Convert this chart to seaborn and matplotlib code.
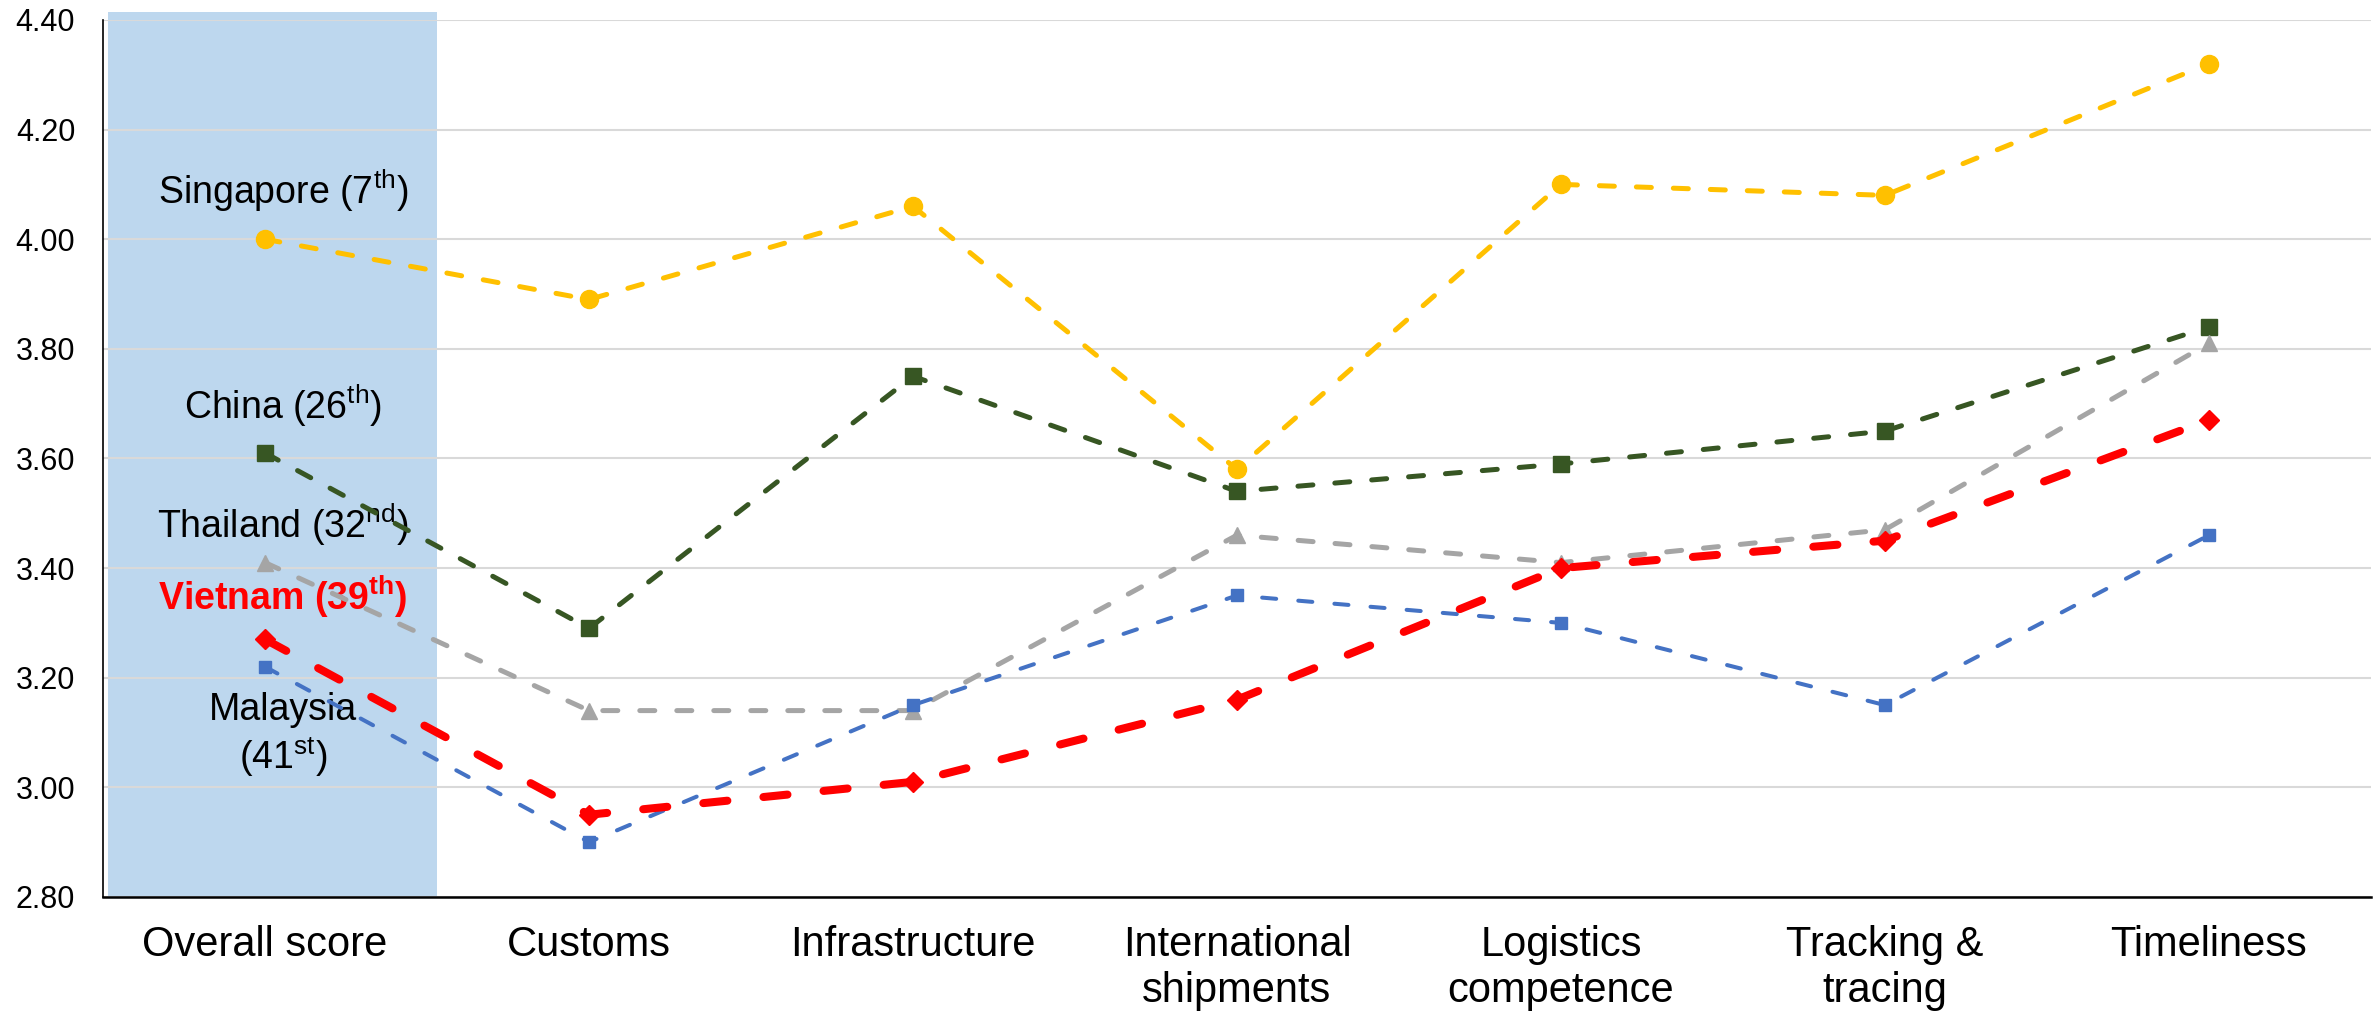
import numpy as np
import pandas as pd
import matplotlib
matplotlib.use("Agg")
import matplotlib.pyplot as plt
import matplotlib.transforms as mtransforms
from matplotlib.patches import Rectangle
import seaborn as sns

# Dati LPI per paese
categories = ["Overall score", "Customs", "Infrastructure", "International\nshipments",
              "Logistics\ncompetence", "Tracking &\ntracing", "Timeliness"]
singapore = [4.00, 3.89, 4.06, 3.58, 4.10, 4.08, 4.32]
china = [3.61, 3.29, 3.75, 3.54, 3.59, 3.65, 3.84]
thailand = [3.41, 3.14, 3.14, 3.46, 3.41, 3.47, 3.81]
vietnam = [3.27, 2.95, 3.01, 3.16, 3.40, 3.45, 3.67]
malaysia = [3.22, 2.90, 3.15, 3.35, 3.30, 3.15, 3.46]
y_ticks = [2.80, 3.00, 3.20, 3.40, 3.60, 3.80, 4.00, 4.20, 4.40]

sns.set_theme(style="white")
plt.rcParams["font.family"] = ["Liberation Sans", "DejaVu Sans"]
plt.rcParams["mathtext.fontset"] = "custom"
plt.rcParams["mathtext.rm"] = "Liberation Sans"
plt.rcParams["mathtext.bf"] = "Liberation Sans:bold"

fig = plt.figure(figsize=(23.79, 10.18), dpi=100, facecolor="white")
ax = fig.add_axes([0.0433, 0.1189, 0.9533, 0.8615])

x = np.arange(len(categories))

# stile delle serie: colore, marker, dimensione marker, spessore, tratteggio
series = [
    ("Singapore", singapore, "#FFC000", "o", 13, 3.6, (3.0, 4.4)),
    ("China", china, "#375623", "s", 12, 3.6, (3.0, 4.4)),
    ("Thailand", thailand, "#A5A5A5", "^", 12, 3.6, (3.0, 4.4)),
    ("Malaysia", malaysia, "#4472C4", "s", 8, 2.9, (3.5, 5.5)),
    ("Vietnam", vietnam, "#FF0000", "D", 10, 5.8, (3.0, 4.5)),
]

for name, vals, col, mk, ms, lw, dash in series:
    df = pd.DataFrame({"x": x, "y": vals})
    sns.lineplot(data=df, x="x", y="y", ax=ax, color=col, marker=mk, markersize=ms,
                 markeredgecolor=col, markeredgewidth=1, linewidth=lw,
                 linestyle=(0, dash), dash_capstyle="round", sort=False, zorder=3)

# banda azzurra sul punteggio complessivo
trans = mtransforms.blended_transform_factory(ax.transData, ax.transAxes)
ax.add_patch(Rectangle((-0.485, 0), 1.016, 1.009, transform=trans, facecolor="#BDD7EE",
                       edgecolor="none", clip_on=False, zorder=0.3))

# etichette dei paesi
lab_kw = dict(ha="center", va="baseline", fontsize=27, zorder=2.5)
ax.text(0.056, 4.065, r"Singapore (7$^{\mathrm{th}}$)", color="black", **lab_kw)
ax.text(0.056, 3.672, r"China (26$^{\mathrm{th}}$)", color="black", **lab_kw)
ax.text(0.056, 3.454, r"Thailand (32$^{\mathrm{nd}}$)", color="black", **lab_kw)
ax.text(0.056, 3.324, r"Vietnam (39$^{\mathbf{th}}$)", color="#FF0000", fontweight="bold", **lab_kw)
ax.text(0.056, 3.123, "Malaysia", color="black", **lab_kw)
ax.text(0.056, 3.033, r"(41$^{\mathrm{st}}$)", color="black", **lab_kw)

ax.set_xlim(-0.5, len(categories) - 0.5)
ax.set_ylim(2.80, 4.40)
ax.set_yticks(y_ticks)
ax.set_yticklabels([f"{v:.2f}" for v in y_ticks])
ax.set_xticks(x)
ax.set_xticklabels(categories, fontsize=30, linespacing=1.2)
ax.set_xticks(np.arange(-0.5, len(categories)), minor=True)
ax.tick_params(axis="x", which="major", length=0, pad=20, colors="black")
ax.tick_params(axis="x", which="minor", length=8.6, width=1.1, color="black", direction="out")
ax.tick_params(axis="y", length=0, pad=20, labelsize=22, colors="black")
ax.set_xlabel("")
ax.set_ylabel("")

ax.set_axisbelow(True)
ax.yaxis.grid(True, color="#D9D9D9", linewidth=1.5)
ax.xaxis.grid(False)
for side in ["top", "right"]:
    ax.spines[side].set_visible(False)
ax.spines["left"].set_color("black")
ax.spines["left"].set_linewidth(1.2)
ax.spines["bottom"].set_color("black")
ax.spines["bottom"].set_linewidth(1.8)

plt.savefig("out.png", dpi=100, facecolor="white")
